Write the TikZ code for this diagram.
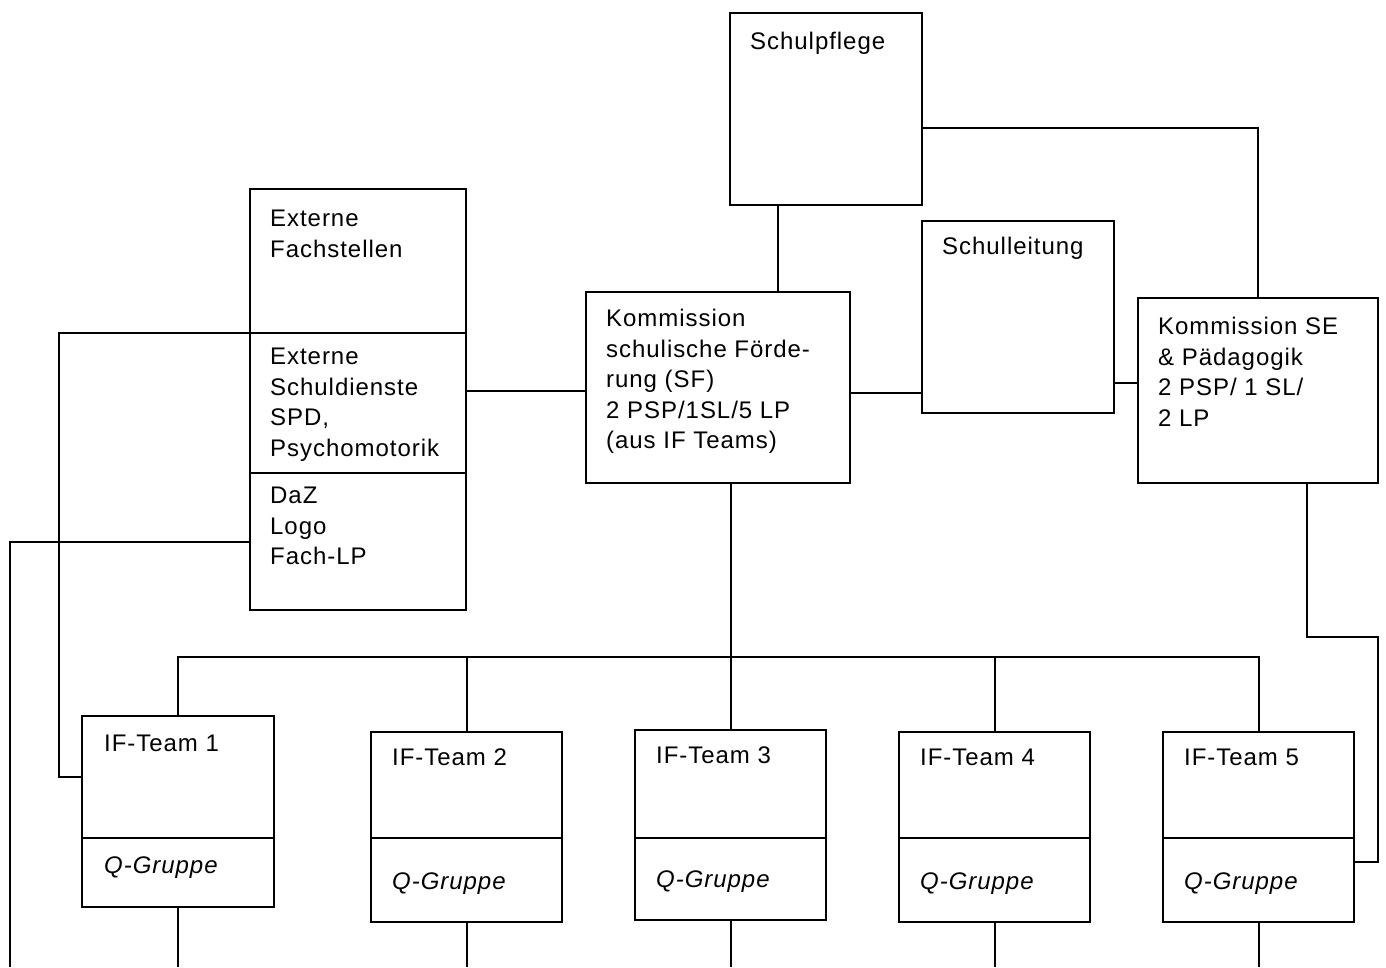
\documentclass[tikz,border=0pt]{standalone}
\usepackage{fontspec}
\setmainfont{Liberation Sans}[LetterSpace=4]
\usetikzlibrary{calc}
\newcommand{\fs}{\fontsize{24}{30.5}\selectfont}
\begin{document}
\begin{tikzpicture}[x=1pt,y=-1pt,
  box/.style={draw, line width=2pt, anchor=north west, inner sep=0pt, outer sep=0pt},
  txt/.style={anchor=north west, inner sep=0pt, align=left, font=\fs},
  conn/.style={line width=2pt}]
\useasboundingbox (0,0) rectangle (1386,967);
% boxes
\node[box, minimum width=192pt, minimum height=192pt] (sp) at (730,13) {};
\node[box, minimum width=216pt, minimum height=144pt] (ef) at (250,189) {};
\node[box, minimum width=216pt, minimum height=140pt] (es) at (250,333) {};
\node[box, minimum width=216pt, minimum height=137pt] (dz) at (250,473) {};
\node[box, minimum width=264pt, minimum height=191pt] (sf) at (586,292) {};
\node[box, minimum width=192pt, minimum height=192pt] (sl) at (922,221) {};
\node[box, minimum width=240pt, minimum height=185pt] (se) at (1138,298) {};
\node[box, minimum width=192pt, minimum height=122pt] (t1a) at (82,716) {};
\node[box, minimum width=192pt, minimum height=69pt] (t1q) at (82,838) {};
\node[box, minimum width=191pt, minimum height=106pt] (t2a) at (371,732) {};
\node[box, minimum width=191pt, minimum height=84pt] (t2q) at (371,838) {};
\node[box, minimum width=191pt, minimum height=108pt] (t3a) at (635,730) {};
\node[box, minimum width=191pt, minimum height=82pt] (t3q) at (635,838) {};
\node[box, minimum width=191pt, minimum height=106pt] (t4a) at (899,732) {};
\node[box, minimum width=191pt, minimum height=84pt] (t4q) at (899,838) {};
\node[box, minimum width=191pt, minimum height=106pt] (t5a) at (1163,732) {};
\node[box, minimum width=191pt, minimum height=84pt] (t5q) at (1163,838) {};
% texts
\node[txt] (spT) at ($(sp.north west)+(20,19)$) {Schulpflege};
\node[txt] (efT) at ($(ef.north west)+(20,21)$) {Externe\\Fachstellen};
\node[txt] (esT) at ($(es.north west)+(20,15)$) {Externe\\Schuldienste\\SPD,\\Psychomotorik};
\node[txt] (dzT) at ($(dz.north west)+(20,14)$) {DaZ\\Logo\\Fach-LP};
\node[txt] (sfT) at ($(sf.north west)+(20,17)$) {Kommission\\schulische Förde-\\rung (SF)\\2 PSP/1SL/5 LP\\(aus IF Teams)};
\node[txt] (slT) at ($(sl.north west)+(20,16)$) {Schulleitung};
\node[txt] (seT) at ($(se.north west)+(20,19)$) {Kommission SE\\\& Pädagogik\\2 PSP/ 1 SL/\\2 LP};
\node[txt] (t1T) at ($(t1a.north west)+(22,19)$) {IF-Team 1};
\node[txt] (t1Q) at ($(t1q.north west)+(22,19)$) {\itshape Q-Gruppe};
\node[txt] (t2T) at ($(t2a.north west)+(21,17)$) {IF-Team 2};
\node[txt] (t2Q) at ($(t2q.north west)+(21,35)$) {\itshape Q-Gruppe};
\node[txt] (t3T) at ($(t3a.north west)+(21,17)$) {IF-Team 3};
\node[txt] (t3Q) at ($(t3q.north west)+(21,33)$) {\itshape Q-Gruppe};
\node[txt] (t4T) at ($(t4a.north west)+(21,17)$) {IF-Team 4};
\node[txt] (t4Q) at ($(t4q.north west)+(21,35)$) {\itshape Q-Gruppe};
\node[txt] (t5T) at ($(t5a.north west)+(21,17)$) {IF-Team 5};
\node[txt] (t5Q) at ($(t5q.north west)+(21,35)$) {\itshape Q-Gruppe};
% helper coordinates
\coordinate (spB) at ($(sp.south west)+(48,0)$);
\coordinate (spR) at ($(sp.north east)+(0,115)$);
\coordinate (seTop) at ($(se.north west)+(120,0)$);
\coordinate (sfL) at ($(sf.north west)+(0,99)$);
\coordinate (sfR) at ($(sf.north east)+(0,101)$);
\coordinate (slR) at ($(sl.north east)+(0,162)$);
\coordinate (seB) at ($(se.south west)+(169,0)$);
\coordinate (seK1) at ($(se.south west)+(169,154)$);
\coordinate (seK2) at ($(t5q.north east)+(24,24)$);
\coordinate (t5R) at ($(t5q.north east)+(0,24)$);
\coordinate (efK) at ($(ef.south west)+(-191,0)$);
\coordinate (dzK) at (10,967);
\coordinate (bus) at (0,657);
\coordinate (b1) at (t1q.south |- 0,967);
\coordinate (b2) at (t2q.south |- 0,967);
\coordinate (b3) at (t3q.south |- 0,967);
\coordinate (b4) at (t4q.south |- 0,967);
\coordinate (b5) at (t5q.south |- 0,967);
% connectors
\draw[conn] (spB) -- (spB |- sf.north);
\draw[conn] (spR) -| (seTop);
\draw[conn] (sfL -| es.east) -- (sfL);
\draw[conn] (sfR) -- (sfR -| sl.west);
\draw[conn] (slR) -- (slR -| se.west);
\draw[conn] (seB) -- (seK1) -| (seK2) -- (t5R);
\draw[conn] (ef.south west) -- (efK) |- (t1a.west);
\draw[conn] (dz.west) -| (dzK);
\draw[conn] (t3a.north |- sf.south) -- (t3a.north);
\draw[conn] (t1a.north) |- (t5a.north |- bus) -- (t5a.north);
\draw[conn] (t2a.north |- bus) -- (t2a.north);
\draw[conn] (t4a.north |- bus) -- (t4a.north);
\draw[conn] (t1q.south) -- (b1);
\draw[conn] (t2q.south) -- (b2);
\draw[conn] (t3q.south) -- (b3);
\draw[conn] (t4q.south) -- (b4);
\draw[conn] (t5q.south) -- (b5);
\end{tikzpicture}
\end{document}
